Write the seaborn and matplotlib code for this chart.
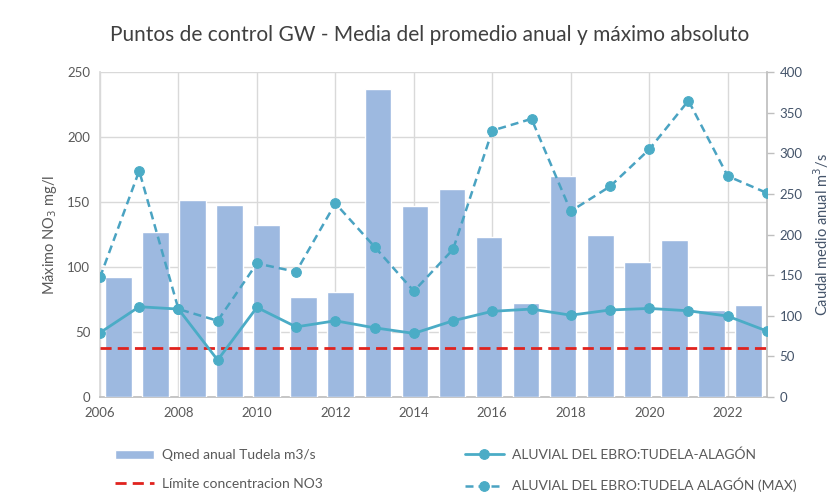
import numpy as np
import pandas as pd
import matplotlib
matplotlib.use("Agg")
import matplotlib.pyplot as plt
import seaborn as sns

# data
years = list(range(2006, 2024))
caudal = [148, 203, 242, 236, 212, 123, 129, 379, 235, 256, 197, 116, 272, 199, 166, 193, 107, 113]
no3_media = [49.5, 69.5, 67.7, 28.5, 69, 54, 58.7, 53.3, 49, 58.7, 66, 67.7, 63, 67, 68.2, 66.4, 62.3, 50.8]
no3_max = [92, 174, 67.7, 58.7, 102.8, 96.4, 149, 115.6, 81.5, 113.6, 205, 214, 143, 162, 190.5, 228, 170, 157]
limite = 37.5

bar_col = "#9DB9E0"
line_col = "#4BACC6"
dash_col = "#4AA3C2"
red_col = "#E0231E"
grey_txt = "#595959"
blue_txt = "#44546A"

sns.set_theme(style="white")
plt.rcParams["font.family"] = ["Lato", "DejaVu Sans"]

fig = plt.figure(figsize=(8.4, 4.97), dpi=100)
rect = [0.119, 0.201, 0.794, 0.654]

# base axes: grid, left axis and years
ax = fig.add_axes(rect)
ax.set_xlim(2006, 2023)
ax.set_ylim(0, 250)
ax.set_xticks(range(2006, 2023, 2))
ax.set_yticks(range(0, 251, 50))
ax.grid(True, color="#D9D9D9", linewidth=1)
for s in ["top", "right"]:
    ax.spines[s].set_visible(False)
ax.spines["left"].set_color("#D9D9D9")
ax.spines["bottom"].set_color("#BFBFBF")
ax.tick_params(axis="both", length=0, labelsize=9.5, colors=grey_txt, pad=7)
ax.set_ylabel("Máximo NO$_3$ mg/l", fontsize=10.5, color=grey_txt, labelpad=6)

# bars on the secondary axis
axb = fig.add_axes(rect)
axb.patch.set_visible(False)
df_bar = pd.DataFrame({"year": [str(y) for y in years], "caudal": caudal})
sns.barplot(data=df_bar, x="year", y="caudal", ax=axb, color=bar_col,
            saturation=1, width=0.72)
axb.set_xlim(-0.5, len(years) - 0.5)
axb.set_ylim(0, 400)
axb.set_yticks(range(0, 401, 50))
axb.yaxis.tick_right()
axb.yaxis.set_label_position("right")
axb.xaxis.set_visible(False)
for s in ["top", "left", "bottom"]:
    axb.spines[s].set_visible(False)
axb.spines["right"].set_color("#BFBFBF")
axb.tick_params(axis="y", length=5, width=1, color="#BFBFBF", labelsize=9.5,
                labelcolor=blue_txt, pad=4)
axb.set_xlabel("")
axb.set_ylabel("Caudal medio anual m$^3$/s", fontsize=10.5, color=blue_txt, labelpad=6)

# lines on top
axl = fig.add_axes(rect, sharex=ax, sharey=ax)
axl.patch.set_visible(False)
axl.axis("off")
axl.axhline(limite, color=red_col, linewidth=2, linestyle="--", dashes=(4, 2.2),
            label="Límite concentracion NO3")
sns.lineplot(x=years, y=no3_media, ax=axl, color=line_col, linewidth=2,
             marker="o", markersize=7, markeredgecolor=line_col,
             label="ALUVIAL DEL EBRO:TUDELA-ALAGÓN")
sns.lineplot(x=years, y=no3_max, ax=axl, color=dash_col, linewidth=1.8,
             marker="o", markersize=7, markeredgecolor=line_col, markerfacecolor=line_col,
             label="ALUVIAL DEL EBRO:TUDELA ALAGÓN (MAX)")
axl.lines[-1].set_linestyle((0, (3.2, 2.0)))
axl.get_legend().remove()

h, l = axl.get_legend_handles_labels()
handles = [axb.containers[0], h[0], h[1], h[2]]
labels = ["Qmed anual Tudela m3/s", l[0], l[1], l[2]]
leg = fig.legend(handles, labels, ncol=2, loc="lower left",
                 bbox_to_anchor=(0.122, -0.016), frameon=False, fontsize=10,
                 columnspacing=10.2, handlelength=2.8, handletextpad=0.6,
                 labelspacing=1.2)
for t in leg.get_texts():
    t.set_color(grey_txt)

fig.suptitle("Puntos de control GW - Media del promedio anual y máximo absoluto",
             x=0.512, y=0.95, fontsize=15, color="#404040")

fig.savefig("out.png", dpi=100)
